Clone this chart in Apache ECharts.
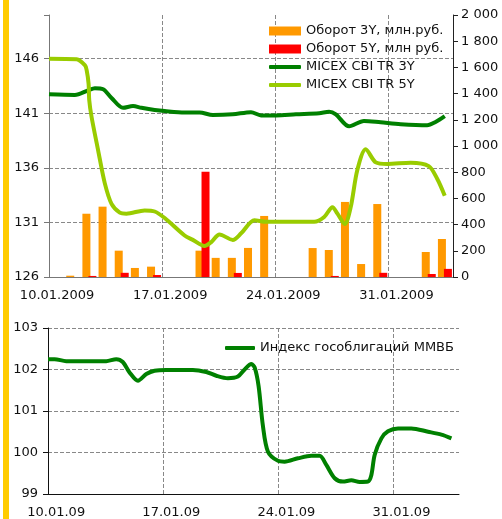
<!DOCTYPE html>
<html>
<head>
<meta charset="utf-8">
<script src="https://cdn.jsdelivr.net/npm/echarts@6/dist/echarts.min.js"></script>
<style>
  html, body { margin: 0; padding: 0; background: #fff; }
  #wrap { position: relative; width: 502px; height: 519px; }
  #chart { position: absolute; left: 0; top: 0; width: 502px; height: 519px; }
  #stripe { position: absolute; left: 3px; top: 0; width: 6px; height: 519px; background: #FFCC00; }
  #err { position: absolute; right: 2px; bottom: 2px; font: 9px monospace; color: #c00; max-width: 300px; }
</style>
</head>
<body>
<div id="wrap">
  <div id="chart"></div>
  <div id="stripe"></div>
  <div id="err"></div>
</div>
<script>
const errBox = document.getElementById("err");
window.addEventListener("error", (e) => { errBox.textContent += " " + e.message; });

// trading calendar slots, 10.01 .. 03.02
const days = [
  "10.01", "11.01", "12.01", "13.01", "14.01", "15.01", "16.01", "17.01", "18.01",
  "19.01", "20.01", "21.01", "22.01", "23.01", "24.01", "25.01", "26.01", "27.01",
  "28.01", "29.01", "30.01", "31.01", "01.02", "02.02", "03.02",
];

// turnover, mln rub (right axis)
const turnover3y = [0, 10, 483, 537, 201, 69, 79, 0, 0, 201, 146, 146, 222, 466, 0, 0, 221, 206, 573, 99, 557, 0, 0, 191, 290];
const turnover5y = [0, 0, 8, 0, 32, 0, 15, 0, 0, 804, 0, 31, 0, 0, 0, 0, 0, 8, 0, 0, 32, 0, 0, 23, 62];

// [day offset from 10.01, index value]
const cbi3y = [
  [0, 142.73], [1.6, 142.67], [2.42, 143.1], [2.84, 143.3], [3.35, 143.2], [3.87, 142.4],
  [4.58, 141.5], [5.2, 141.66], [5.72, 141.5], [6.54, 141.3], [7.16, 141.2], [8.39, 141.08],
  [9.32, 141.08], [10.14, 140.83], [11.37, 140.9], [12.5, 141.1], [13.12, 140.8], [14.05, 140.8],
  [15.28, 140.9], [16.72, 141.0], [17.33, 141.14], [17.75, 140.9], [18.57, 139.8], [19.49, 140.3],
  [20.52, 140.17], [21.76, 140.0], [23.4, 139.9], [23.92, 140.2], [24.49, 140.74],
];
const cbi5y = [
  [0, 146.0], [1.71, 145.95], [2.22, 145.4], [2.33, 144.96], [2.45, 143.7], [2.49, 142.2],
  [2.63, 140.7], [3.04, 137.6], [3.45, 134.6], [3.87, 132.7], [4.38, 131.9], [4.79, 131.8],
  [5.92, 132.1], [6.54, 132.0], [7.16, 131.4], [8.39, 129.8], [8.9, 129.4], [9.62, 128.84],
  [10.04, 129.2], [10.55, 129.9], [11.37, 129.4], [11.89, 130.0], [12.71, 131.2], [13.43, 131.06],
  [14.25, 131.06], [15.9, 131.06], [16.41, 131.06], [17.03, 131.5], [17.54, 132.4], [17.85, 131.8],
  [18.3, 130.85], [18.67, 132.4], [19.08, 135.8], [19.6, 137.7], [20.22, 136.5], [20.93, 136.35],
  [22.38, 136.47], [23.5, 136.16], [24.02, 135.0], [24.49, 133.45],
];
const govIdx = [
  [0, 102.25], [0.4, 102.25], [1.11, 102.2], [3.54, 102.2], [4.15, 102.25], [4.55, 102.18],
  [4.96, 101.93], [5.47, 101.73], [5.98, 101.89], [6.48, 101.97], [7.19, 101.99], [8.81, 101.99],
  [9.63, 101.94], [10.24, 101.85], [10.94, 101.79], [11.55, 101.83], [11.96, 102.0], [12.37, 102.13],
  [12.57, 102.05], [12.81, 101.6], [13.07, 100.65], [13.38, 100.02], [13.99, 99.8], [14.39, 99.78],
  [15.2, 99.86], [16.02, 99.92], [16.52, 99.92], [16.93, 99.7], [17.44, 99.38], [17.94, 99.3],
  [18.45, 99.33], [18.96, 99.29], [19.46, 99.3], [19.67, 99.46], [19.87, 99.94], [20.28, 100.34],
  [20.68, 100.51], [21.29, 100.58], [22.1, 100.58], [23.12, 100.5], [23.93, 100.43], [24.54, 100.34],
];

const names = {
  t3: "Оборот 3Y, млн.руб.",
  t5: "Оборот 5Y, млн руб.",
  c3: "MICEX CBI TR 3Y",
  c5: "MICEX CBI TR 5Y",
  gov: "Индекс гособлигаций ММВБ",
};

const FONT = "DejaVu Sans";
const TXT = { fontFamily: FONT, fontSize: 13, color: "#111" };
const sl = { show: true, showMinLine: false, showMaxLine: false, lineStyle: { color: "#888", type: "dashed" } };

function spaced(v) {
  return String(v).replace(/\B(?=(\d{3})+(?!\d))/g, " ");
}

function dateAxis(gridIndex, suffix, lineColor) {
  return {
    type: "category",
    gridIndex,
    data: days,
    axisLine: { lineStyle: { color: lineColor } },
    axisTick: { lineStyle: { color: lineColor } },
    axisLabel: Object.assign({ interval: 6, margin: 12, formatter: (v) => v + suffix }, TXT),
    splitLine: { show: false },
  };
}

// day scale for the lines; only its weekly grid lines are visible
function dayAxis(gridIndex) {
  return {
    type: "value", gridIndex, min: 0, max: days.length, interval: 7,
    axisLine: { show: false },
    axisTick: { show: false },
    axisLabel: { show: false },
    splitLine: sl,
  };
}

try {
  const chart = echarts.init(document.getElementById("chart"));
  chart.setOption({
    animation: false,
    grid: [
      { left: 49, right: 49, top: 15, height: 262 },
      { left: 48, right: 43, top: 328, height: 168 },
    ],
    xAxis: [dateAxis(0, ".2009", "#777"), dayAxis(0), dateAxis(1, ".09", "#111"), dayAxis(1)],
    yAxis: [
      {
        type: "value", gridIndex: 0, min: 126, max: 150, interval: 5,
        axisLine: { show: true, lineStyle: { color: "#777" } },
        axisTick: { show: true, lineStyle: { color: "#777" } },
        axisLabel: Object.assign({ margin: 10, formatter: (v) => (v >= 150 ? "" : String(v)) }, TXT),
        splitLine: sl,
      },
      {
        type: "value", gridIndex: 0, position: "right", min: 0, max: 2000, interval: 200,
        axisLine: { show: true, lineStyle: { color: "#222" } },
        axisTick: { show: true, lineStyle: { color: "#222" } },
        axisLabel: Object.assign({ margin: 8, formatter: spaced }, TXT),
        splitLine: { show: false },
      },
      {
        type: "value", gridIndex: 1, min: 99, max: 103, interval: 1,
        axisLine: { show: true, lineStyle: { color: "#111" } },
        axisTick: { show: true, lineStyle: { color: "#111" } },
        axisLabel: Object.assign({ margin: 10 }, TXT),
        splitLine: { show: true, showMinLine: false, lineStyle: { color: "#888", type: "dashed" } },
      },
    ],
    legend: [
      {
        orient: "vertical", left: 264, top: 19, itemGap: 4, itemWidth: 32, itemHeight: 9,
        textStyle: Object.assign({ lineHeight: 14 }, TXT),
        data: [{ name: names.t3, icon: "rect" }, { name: names.t5, icon: "rect" }],
      },
      {
        orient: "vertical", left: 264, top: 55, itemGap: 4, itemWidth: 32, itemHeight: 4,
        textStyle: Object.assign({ lineHeight: 14 }, TXT),
        data: [{ name: names.c3, icon: "roundRect" }, { name: names.c5, icon: "roundRect" }],
      },
      {
        orient: "vertical", left: 220, top: 336, itemWidth: 30, itemHeight: 4,
        textStyle: Object.assign({ lineHeight: 14 }, TXT),
        data: [{ name: names.gov, icon: "roundRect" }],
      },
    ],
    series: [
      {
        name: names.t3, type: "bar", xAxisIndex: 0, yAxisIndex: 1,
        data: turnover3y, barWidth: 8, barGap: "-25%", itemStyle: { color: "#FF9900" },
      },
      {
        name: names.t5, type: "bar", xAxisIndex: 0, yAxisIndex: 1,
        data: turnover5y, barWidth: 8, barGap: "-25%", itemStyle: { color: "#FF0000" },
      },
      {
        name: names.c3, type: "line", xAxisIndex: 1, yAxisIndex: 0,
        data: cbi3y, smooth: 0.3, symbol: "none",
        lineStyle: { color: "#008000", width: 4 }, itemStyle: { color: "#008000" },
      },
      {
        name: names.c5, type: "line", xAxisIndex: 1, yAxisIndex: 0,
        data: cbi5y, smooth: 0.3, symbol: "none",
        lineStyle: { color: "#99CC00", width: 4 }, itemStyle: { color: "#99CC00" },
      },
      {
        name: names.gov, type: "line", xAxisIndex: 3, yAxisIndex: 2,
        data: govIdx, smooth: 0.3, symbol: "none",
        lineStyle: { color: "#008000", width: 4 }, itemStyle: { color: "#008000" },
      },
    ],
  });
} catch (e) {
  errBox.textContent += " " + e.message;
}
</script>
</body>
</html>
